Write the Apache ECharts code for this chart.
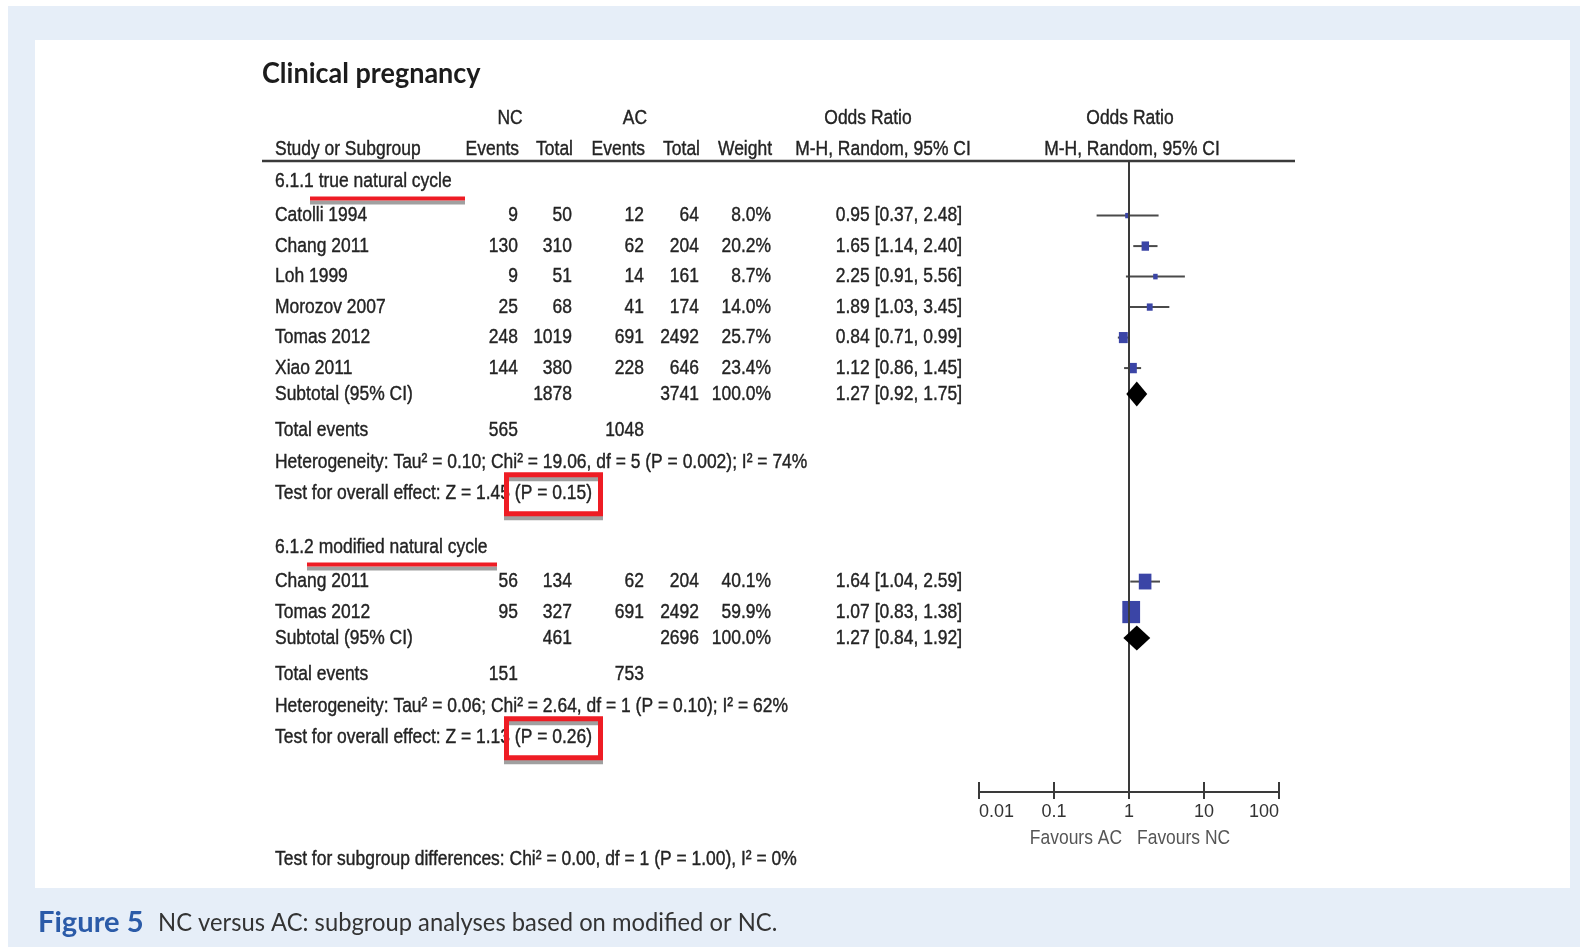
<!DOCTYPE html>
<html>
<head>
<meta charset="utf-8">
<script src="https://cdn.jsdelivr.net/npm/echarts@6/dist/echarts.min.js"></script>
<style>
  html, body { margin: 0; padding: 0; background: #ffffff; overflow: hidden; }
  #outer { position: absolute; left: 8px; top: 6px; right: 0; bottom: 0; background: #e6eef8; }
  #panel { position: absolute; left: 35px; top: 40px; width: 1535px; height: 848px; background: #ffffff; }
  #c { position: absolute; left: 0; top: 0; width: 1580px; height: 947px; }
</style>
</head>
<body>
<div id="outer"></div>
<div id="panel"></div>
<div id="c"></div>
<script>
// ---- Subgroup 6.1.1: true natural cycle ----
const group1Name = '6.1.1 true natural cycle';
const studies1   = ['Catolli 1994', 'Chang 2011', 'Loh 1999', 'Morozov 2007', 'Tomas 2012', 'Xiao 2011'];
const ncEvents1  = [9, 130, 9, 25, 248, 144];
const ncTotal1   = [50, 310, 51, 68, 1019, 380];
const acEvents1  = [12, 62, 14, 41, 691, 228];
const acTotal1   = [64, 204, 161, 174, 2492, 646];
const weight1    = [8.0, 20.2, 8.7, 14.0, 25.7, 23.4];
const or1        = [0.95, 1.65, 2.25, 1.89, 0.84, 1.12];
const orLow1     = [0.37, 1.14, 0.91, 1.03, 0.71, 0.86];
const orHigh1    = [2.48, 2.40, 5.56, 3.45, 0.99, 1.45];
const subtotal1  = [1.27, 0.92, 1.75];          // OR, lower, upper
const subTotals1 = [1878, 3741];                // NC total, AC total
const events1    = [565, 1048];                 // total events NC, AC
const het1       = 'Heterogeneity: Tau\u00b2 = 0.10; Chi\u00b2 = 19.06, df = 5 (P = 0.002); I\u00b2 = 74%';
const effect1    = 'Test for overall effect: Z = 1.45 (P = 0.15)';

// ---- Subgroup 6.1.2: modified natural cycle ----
const group2Name = '6.1.2 modified natural cycle';
const studies2   = ['Chang 2011', 'Tomas 2012'];
const ncEvents2  = [56, 95];
const ncTotal2   = [134, 327];
const acEvents2  = [62, 691];
const acTotal2   = [204, 2492];
const weight2    = [40.1, 59.9];
const or2        = [1.64, 1.07];
const orLow2     = [1.04, 0.83];
const orHigh2    = [2.59, 1.38];
const subtotal2  = [1.27, 0.84, 1.92];
const subTotals2 = [461, 2696];
const events2    = [151, 753];
const het2       = 'Heterogeneity: Tau\u00b2 = 0.06; Chi\u00b2 = 2.64, df = 1 (P = 0.10); I\u00b2 = 62%';
const effect2    = 'Test for overall effect: Z = 1.13 (P = 0.26)';

const subgroupTest = 'Test for subgroup differences: Chi\u00b2 = 0.00, df = 1 (P = 1.00), I\u00b2 = 0%';
const tickLabels   = ['0.01', '0.1', '1', '10', '100'];

const groups = [
  { name: group1Name, studies: studies1, ncE: ncEvents1, ncT: ncTotal1, acE: acEvents1, acT: acTotal1,
    w: weight1, or: or1, lo: orLow1, hi: orHigh1, sub: subtotal1, subT: subTotals1, ev: events1, het: het1, eff: effect1 },
  { name: group2Name, studies: studies2, ncE: ncEvents2, ncT: ncTotal2, acE: acEvents2, acT: acTotal2,
    w: weight2, or: or2, lo: orLow2, hi: orHigh2, sub: subtotal2, subT: subTotals2, ev: events2, het: het2, eff: effect2 }
];

// Row slots (in text lines) for every group
let base = 0;
groups.forEach(g => {
  const n = g.studies.length;
  g.headerSlot = base - 1.12;
  g.studySlots = g.studies.map((_, i) => base + i);
  g.subSlot = base + n - 0.15;
  g.evSlot = base + n + 1.05;
  g.hetSlot = base + n + 2.1;
  g.effSlot = base + n + 3.12;
  base = base + n + 6;
});
const subgroupSlot = groups[1].effSlot + 3.98;

// Series data from the arrays
const squareData = [], ciData = [], diamondData = [];
groups.forEach(g => {
  g.studies.forEach((_, i) => {
    squareData.push([g.or[i], g.studySlots[i], g.w[i]]);
    ciData.push([g.lo[i], g.hi[i], g.studySlots[i]]);
  });
  diamondData.push([g.sub[1], g.sub[0], g.sub[2], g.subSlot]);
});

const chart = echarts.init(document.getElementById('c'), null, { renderer: 'canvas' });

const TXT = '#232323';
const LINE = '#3a3a3a';
const FONT = 'Liberation Sans, Arial, sans-serif';

const xAxisBase = {
  type: 'log', logBase: 10, min: 0.01, max: 100, interval: 1,
  position: 'bottom', offset: 0, splitLine: { show: false }
};

chart.setOption({
  animation: false,
  grid: { left: 979, right: 301, top: 161, bottom: 155, containLabel: false },
  xAxis: [
    Object.assign({}, xAxisBase, {
      axisLine: { show: true, onZero: false, lineStyle: { color: LINE, width: 2 } },
      axisTick: { show: true, inside: true, length: 10, lineStyle: { color: LINE, width: 2 } },
      axisLabel: {
        show: true, margin: 11, color: '#333', fontSize: 18, fontFamily: FONT,
        alignMinLabel: 'left', alignMaxLabel: 'right',
        formatter: v => tickLabels[Math.round(Math.log10(v)) + 2]
      }
    }),
    Object.assign({}, xAxisBase, {
      axisLine: { show: false, onZero: false },
      axisTick: { show: true, inside: false, length: 7, lineStyle: { color: LINE, width: 2 } },
      axisLabel: { show: false }
    })
  ],
  yAxis: { type: 'value', inverse: true, min: -1.79, max: 18.9, show: false },
  series: [
    {
      type: 'custom', name: 'ci', xAxisIndex: 0, z: 3,
      data: ciData,
      renderItem: (params, api) => {
        const a = api.coord([api.value(0), api.value(2)]);
        const b = api.coord([api.value(1), api.value(2)]);
        return { type: 'line', shape: { x1: a[0], y1: a[1], x2: b[0], y2: b[1] },
                 style: { stroke: '#4a4a4a', lineWidth: 2 } };
      }
    },
    {
      type: 'scatter', name: 'or', xAxisIndex: 0, z: 4,
      symbol: 'rect',
      symbolSize: d => { const w = 2.2 + 0.26 * d[2]; return [w, w * 1.25]; },
      itemStyle: { color: '#3b45a6', opacity: 1 },
      data: squareData,
      markLine: {
        silent: true, symbol: ['none', 'none'], label: { show: false },
        lineStyle: { color: LINE, width: 2, type: 'solid' },
        data: [{ xAxis: 1 }]
      }
    },
    {
      type: 'custom', name: 'subtotal', xAxisIndex: 0, z: 5,
      data: diamondData,
      renderItem: (params, api) => {
        const y = api.value(3);
        const l = api.coord([api.value(0), y]);
        const m = api.coord([api.value(1), y]);
        const r = api.coord([api.value(2), y]);
        const h = 12.5;
        return { type: 'polygon',
                 shape: { points: [[l[0], l[1]], [m[0], m[1] - h], [r[0], r[1]], [m[0], m[1] + h]] },
                 style: { fill: '#000000' } };
      }
    }
  ]
});

// ---- Table text, headers, annotations ----
const SX = 0.97, SY = 1.15, FS = 18;
const rowY = slot => chart.convertToPixel({ yAxisIndex: 0 }, slot);

function txt(x, y, s, align, extra) {
  const e = extra || {};
  const fill = e.fill || TXT;
  return {
    type: 'text', x: x, y: y, scaleX: e.sx || SX, scaleY: e.sy || SY, silent: true, z: 10,
    style: {
      text: s, x: 0, y: 0, align: align || 'left', verticalAlign: 'middle',
      fontSize: e.fs || FS, fontFamily: e.ff || FONT, fontWeight: e.fw || 'normal', fill: fill,
      stroke: e.noStroke ? null : fill, lineWidth: e.noStroke ? 0 : 0.35
    }
  };
}

const colNcE = 518, colNcT = 572, colAcE = 644, colAcT = 699, colW = 771, colOR = 962, colLeft = 275;
const g = [];

g.push(txt(262, 74, 'Clinical pregnancy', 'left', { fs: 27, fw: 'bold', ff: 'Lato, sans-serif', sx: 1, sy: 1.05, fill: '#1c1c1c', noStroke: true }));
g.push(txt(510, 118, 'NC', 'center'));
g.push(txt(635, 118, 'AC', 'center'));
g.push(txt(868, 118, 'Odds Ratio', 'center'));
g.push(txt(1130, 118, 'Odds Ratio', 'center'));
g.push(txt(colLeft, 149, 'Study or Subgroup', 'left'));
g.push(txt(colNcE + 1, 149, 'Events', 'right'));
g.push(txt(colNcT + 1, 149, 'Total', 'right'));
g.push(txt(colAcE + 1, 149, 'Events', 'right'));
g.push(txt(colAcT + 1, 149, 'Total', 'right'));
g.push(txt(colW + 1, 149, 'Weight', 'right'));
g.push(txt(883, 149, 'M-H, Random, 95% CI', 'center'));
g.push(txt(1132, 149, 'M-H, Random, 95% CI', 'center'));
g.push({ type: 'line', silent: true, z: 9, shape: { x1: 262, y1: 161, x2: 1295, y2: 161 },
         style: { stroke: LINE, lineWidth: 2.5 } });

const fmtOR = (o, l, h) => o.toFixed(2) + ' [' + l.toFixed(2) + ', ' + h.toFixed(2) + ']';

const red = '#ee1c24';
const redShadow = { shadowColor: 'rgba(120,120,120,0.7)', shadowBlur: 0, shadowOffsetX: 0, shadowOffsetY: 4 };

groups.forEach((gr, gi) => {
  const hy = rowY(gr.headerSlot);
  g.push(txt(colLeft, hy, gr.name, 'left'));
  gr.studies.forEach((s, i) => {
    const y = rowY(gr.studySlots[i]);
    g.push(txt(colLeft, y, s, 'left'));
    g.push(txt(colNcE, y, String(gr.ncE[i]), 'right'));
    g.push(txt(colNcT, y, String(gr.ncT[i]), 'right'));
    g.push(txt(colAcE, y, String(gr.acE[i]), 'right'));
    g.push(txt(colAcT, y, String(gr.acT[i]), 'right'));
    g.push(txt(colW, y, gr.w[i].toFixed(1) + '%', 'right'));
    g.push(txt(colOR, y, fmtOR(gr.or[i], gr.lo[i], gr.hi[i]), 'right'));
  });
  const sy = rowY(gr.subSlot);
  g.push(txt(colLeft, sy, 'Subtotal (95% CI)', 'left'));
  g.push(txt(colNcT, sy, String(gr.subT[0]), 'right'));
  g.push(txt(colAcT, sy, String(gr.subT[1]), 'right'));
  g.push(txt(colW, sy, '100.0%', 'right'));
  g.push(txt(colOR, sy, fmtOR(gr.sub[0], gr.sub[1], gr.sub[2]), 'right'));
  const ey = rowY(gr.evSlot);
  g.push(txt(colLeft, ey, 'Total events', 'left'));
  g.push(txt(colNcE, ey, String(gr.ev[0]), 'right'));
  g.push(txt(colAcE, ey, String(gr.ev[1]), 'right'));
  g.push(txt(colLeft, rowY(gr.hetSlot), gr.het, 'left'));
  const fy = rowY(gr.effSlot);
  g.push(txt(colLeft, fy, gr.eff, 'left'));

  // red highlight: underline of the subgroup title and box round the P value
  const ux = gi === 0 ? [310, 465] : [307, 497];
  g.push({ type: 'rect', silent: true, z: 20, shape: { x: ux[0], y: hy + 15, width: ux[1] - ux[0], height: 4 },
           style: Object.assign({ fill: red }, redShadow) });
  g.push({ type: 'rect', silent: true, z: 20, shape: { x: 506.5, y: fy - 19, width: 94, height: 39 },
           style: Object.assign({ fill: null, stroke: red, lineWidth: 5 }, redShadow) });
});

g.push(txt(colLeft, rowY(subgroupSlot), subgroupTest, 'left'));
g.push(txt(1122, 838, 'Favours AC', 'right', { fill: '#555', noStroke: true }));
g.push(txt(1137, 838, 'Favours NC', 'left', { fill: '#555', noStroke: true }));

// Figure caption
g.push(txt(38, 923, 'Figure 5', 'left', { fs: 28, fw: 'bold', ff: 'Lato, sans-serif', sx: 1.04, sy: 1, fill: '#2b5ba8', noStroke: true }));
g.push(txt(158, 923, 'NC versus AC: subgroup analyses based on modified or NC.', 'left',
           { fs: 24, ff: 'Lato, sans-serif', sx: 0.99, sy: 1.05, fill: '#333', noStroke: true }));

chart.setOption({ graphic: { elements: g } });
</script>
</body>
</html>
